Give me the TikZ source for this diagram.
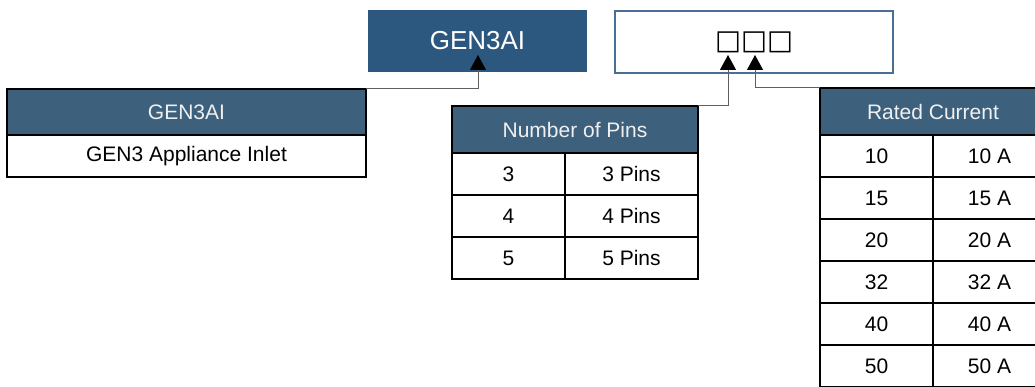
\documentclass[tikz,border=0pt]{standalone}
\usepackage{fontspec}
\setmainfont{Liberation Sans}
\newfontfamily\boxfont{DejaVu Sans}
\usetikzlibrary{positioning, arrows.meta}
\definecolor{codeblue}{RGB}{44,88,128}
\definecolor{headblue}{RGB}{61,96,125}
\definecolor{optblue}{RGB}{74,110,150}
\definecolor{linegray}{RGB}{95,95,95}
\tikzstyle{every node}=[font=\fontsize{21}{25}\selectfont, inner sep=0pt, outer sep=0pt]
\tikzstyle{codebox} = [rectangle, minimum width=219pt, minimum height=62pt, fill=codeblue, text=white, font=\fontsize{26}{30}\selectfont]
\tikzstyle{optbox} = [rectangle, minimum width=278pt, minimum height=62pt, draw=optblue, line width=1.2pt, fill=white, font=\boxfont\fontsize{27.5}{30}\selectfont]
\tikzstyle{head} = [rectangle, minimum height=47pt, text centered, draw=black, line width=1.3pt, fill=headblue, text=white!94!black]
\tikzstyle{cell} = [rectangle, minimum height=42pt, minimum width=113pt, text centered, draw=black, line width=1.3pt]
\tikzstyle{arrow} = [draw=linegray, line width=1pt, -{Triangle[width=16pt,length=15pt,color=black]}]

\begin{document}
\begin{tikzpicture}[x=1pt, y=-1pt]
            \useasboundingbox (0,0) rectangle (1035,387);
            \clip (0,0) rectangle (1035,387);
            % code boxes
            \node (code) [codebox] at (477.5,41) {GEN3AI};
            \node (opts) [optbox] at (754,42) {□□□};
            \coordinate (tipcode) at (478,55);
            \coordinate (tippins) at (728,55);
            \coordinate (tipcur) at (755,55);
            % series table
            \node (genhead) [head, minimum width=359pt, minimum height=46pt] at (186.5,112) {GEN3AI};
            \node (genrow) [cell, minimum width=359pt, below=0pt of genhead] {GEN3 Appliance Inlet};
            % pins table
            \node (pinshead) [head, minimum width=246pt] at (575,129.5) {Number of Pins};
            \node (p3a) [cell, anchor=north west] at (pinshead.south west) {3};
            \node (p3b) [cell, minimum width=133pt, right=0pt of p3a] {3 Pins};
            \node (p4a) [cell, below=0pt of p3a] {4};
            \node (p4b) [cell, minimum width=133pt, right=0pt of p4a] {4 Pins};
            \node (p5a) [cell, below=0pt of p4a] {5};
            \node (p5b) [cell, minimum width=133pt, right=0pt of p5a] {5 Pins};
            % current table
            \node (curhead) [head, minimum width=226pt] at (933,111.5) {Rated Current};
            \node (c10a) [cell, anchor=north west] at (curhead.south west) {10};
            \node (c10b) [cell, right=0pt of c10a] {10 A};
            \node (c15a) [cell, below=0pt of c10a] {15};
            \node (c15b) [cell, right=0pt of c15a] {15 A};
            \node (c20a) [cell, below=0pt of c15a] {20};
            \node (c20b) [cell, right=0pt of c20a] {20 A};
            \node (c32a) [cell, below=0pt of c20a] {32};
            \node (c32b) [cell, right=0pt of c32a] {32 A};
            \node (c40a) [cell, below=0pt of c32a] {40};
            \node (c40b) [cell, right=0pt of c40a] {40 A};
            \node (c50a) [cell, below=0pt of c40a] {50};
            \node (c50b) [cell, right=0pt of c50a] {50 A};
            % connectors
            \draw [arrow] (genhead.north east) -| (tipcode);
            \draw [arrow] (pinshead.north east) -| (tippins);
            \draw [arrow] (curhead.north west) -| (tipcur);
          \end{tikzpicture}
\end{document}
